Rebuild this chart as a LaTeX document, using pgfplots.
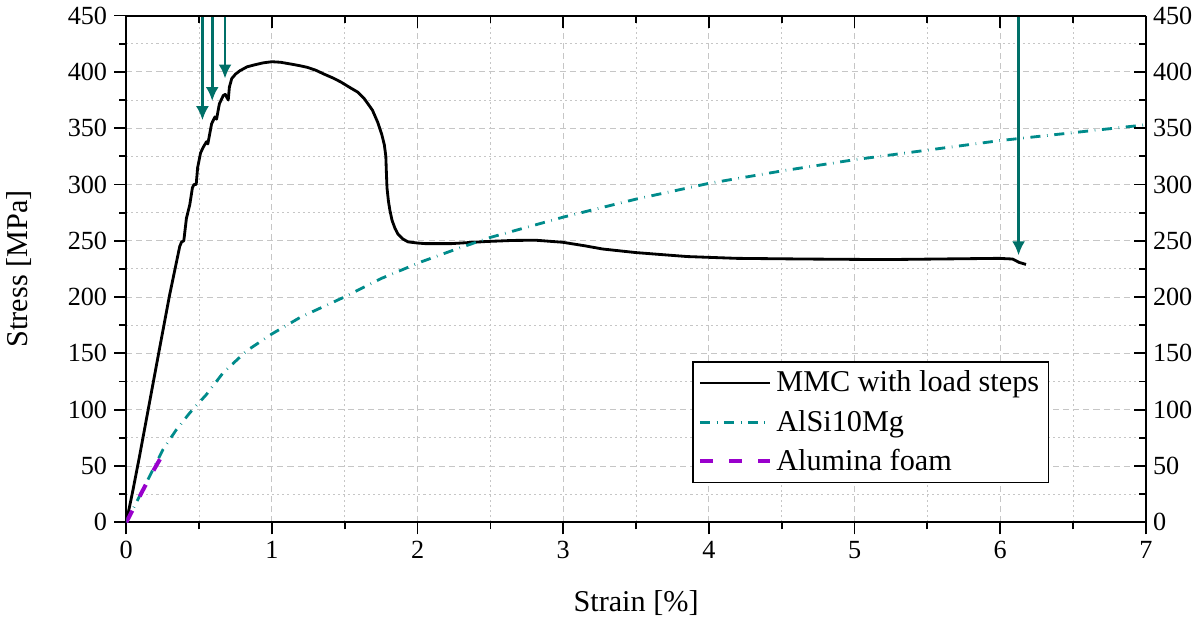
\documentclass[border=0pt]{standalone}
\usepackage{fontspec}
\setmainfont{Liberation Serif}
\usepackage{pgfplots}
\pgfplotsset{compat=1.18}
\usetikzlibrary{arrows.meta}

\definecolor{mmcteal}{RGB}{0,112,104}
\definecolor{alteal}{RGB}{0,139,139}
\definecolor{foam}{RGB}{153,0,204}

\pgfplotsset{
  common/.style={
    width=506pt, height=251.5pt, scale only axis,
    xmin=0, xmax=7, ymin=0, ymax=450,
    xtick={0,1,...,7}, ytick={0,50,...,450},
    minor x tick num=1, minor y tick num=1,
    major tick length=6pt, minor tick length=3.5pt,
    every tick/.style={black, line width=0.9pt},
    axis line style={line width=1pt},
    /pgf/number format/assume math mode=true,
    ticklabel style={font=\fontsize{13}{15}\selectfont},
  },
}

\begin{document}
\begin{tikzpicture}
% left and bottom axes, ticks outside
\begin{axis}[
  common,
  axis x line*=bottom, axis y line*=left,
  tick align=outside,
  grid=both,
  major grid style={gray!45, dash pattern=on 3pt off 2pt, line width=0.5pt},
  minor grid style={gray!45, dash pattern=on 1pt off 1.5pt, line width=0.5pt},
  xlabel={Strain [\%]}, ylabel={Stress [MPa]},
  label style={font=\fontsize{15}{18}\selectfont},
  xlabel style={at={(axis description cs:0.5,-0.159)}, anchor=center},
  ylabel style={at={(axis description cs:-0.105,0.5)}, anchor=center},
  legend style={at={(0.905,0.318)}, anchor=north east, draw=black, line width=0.75pt,
    font=\fontsize{15}{18}\selectfont, inner sep=2.5pt, row sep=3.5pt},
  legend cell align=left,
  legend image code/.code={\draw[#1] (0pt,0pt) -- (35pt,0pt);},
]
\addplot[black, line width=1.4pt, line join=round] coordinates {
(0,0) (0.045,28) (0.09,58) (0.159,106) (0.228,154) (0.297,201.5) (0.367,245)
(0.38,249) (0.395,250) (0.413,270) (0.436,282) (0.454,297) (0.465,300) (0.48,300)
(0.49,315) (0.51,328) (0.528,333) (0.551,338) (0.56,336) (0.586,354) (0.609,360)
(0.62,358) (0.639,371.5) (0.666,379) (0.68,380) (0.70,375) (0.708,386.5) (0.724,394)
(0.75,398) (0.78,401) (0.83,404.5) (0.874,406) (0.94,408) (1.0,409) (1.06,408.5)
(1.127,407) (1.19,405.5) (1.243,404) (1.3,401.5) (1.358,398) (1.42,394.5) (1.473,391)
(1.53,386.5) (1.589,382) (1.635,376) (1.69,366) (1.727,355) (1.755,344) (1.772,335)
(1.782,325) (1.786,310) (1.79,297) (1.8,285) (1.81,277) (1.825,268) (1.845,261)
(1.865,256) (1.9,251.5) (1.935,249) (2.0,248) (2.05,247.5)
(2.234,247.5) (2.464,249.3) (2.65,250.3) (2.81,250.5) (2.995,248.7) (3.15,245.5) (3.27,242.7)
(3.5,239.5) (3.85,236) (4.19,234.4) (4.655,233.8) (5.21,233.3) (5.99,234.4) (6.085,233.8)
(6.13,230.8) (6.177,229)
};
\addlegendentry{MMC with load steps}
\addplot[alteal, line width=1.4pt, dash pattern=on 5pt off 3.3pt on 0.3pt off 3.3pt] coordinates {
(0,0) (0.136,34.6) (0.251,64.4) (0.344,82.3) (0.436,97.2) (0.551,113.6) (0.666,133)
(0.828,152.4) (1.0,167.3) (1.197,182.2) (1.496,200) (1.75,216.5) (2.027,231.4)
(2.28,243.3) (2.5,253) (3,271) (3.5,287) (4,301) (4.5,312) (5,322) (5.5,330.5)
(6,339) (6.5,346) (7,353)
};
\addlegendentry{AlSi10Mg}
\addplot[foam, line width=2pt, dash pattern=on 6.5pt off 8pt] coordinates {
(0,0) (0.06,15) (0.12,30) (0.18,44.5) (0.24,58)
};
\addlegendentry{Alumina foam}
% load step arrows
\addplot[mmcteal, line width=1.4pt, -{Latex[length=7pt,width=6.5pt]}, forget plot] coordinates {(0.523,450) (0.523,357)};
\addplot[mmcteal, line width=1.4pt, -{Latex[length=7pt,width=6.5pt]}, forget plot] coordinates {(0.59,450) (0.59,374)};
\addplot[mmcteal, line width=1.4pt, -{Latex[length=7pt,width=6.5pt]}, forget plot] coordinates {(0.678,450) (0.678,394)};
\addplot[mmcteal, line width=1.4pt, -{Latex[length=7pt,width=6.5pt]}, forget plot] coordinates {(6.126,450) (6.126,237)};
\end{axis}
% right and top axes, ticks inside
\begin{axis}[
  common,
  axis x line*=top, axis y line*=right,
  tick align=inside,
  xticklabels={},
]
\end{axis}
\end{tikzpicture}
\end{document}
